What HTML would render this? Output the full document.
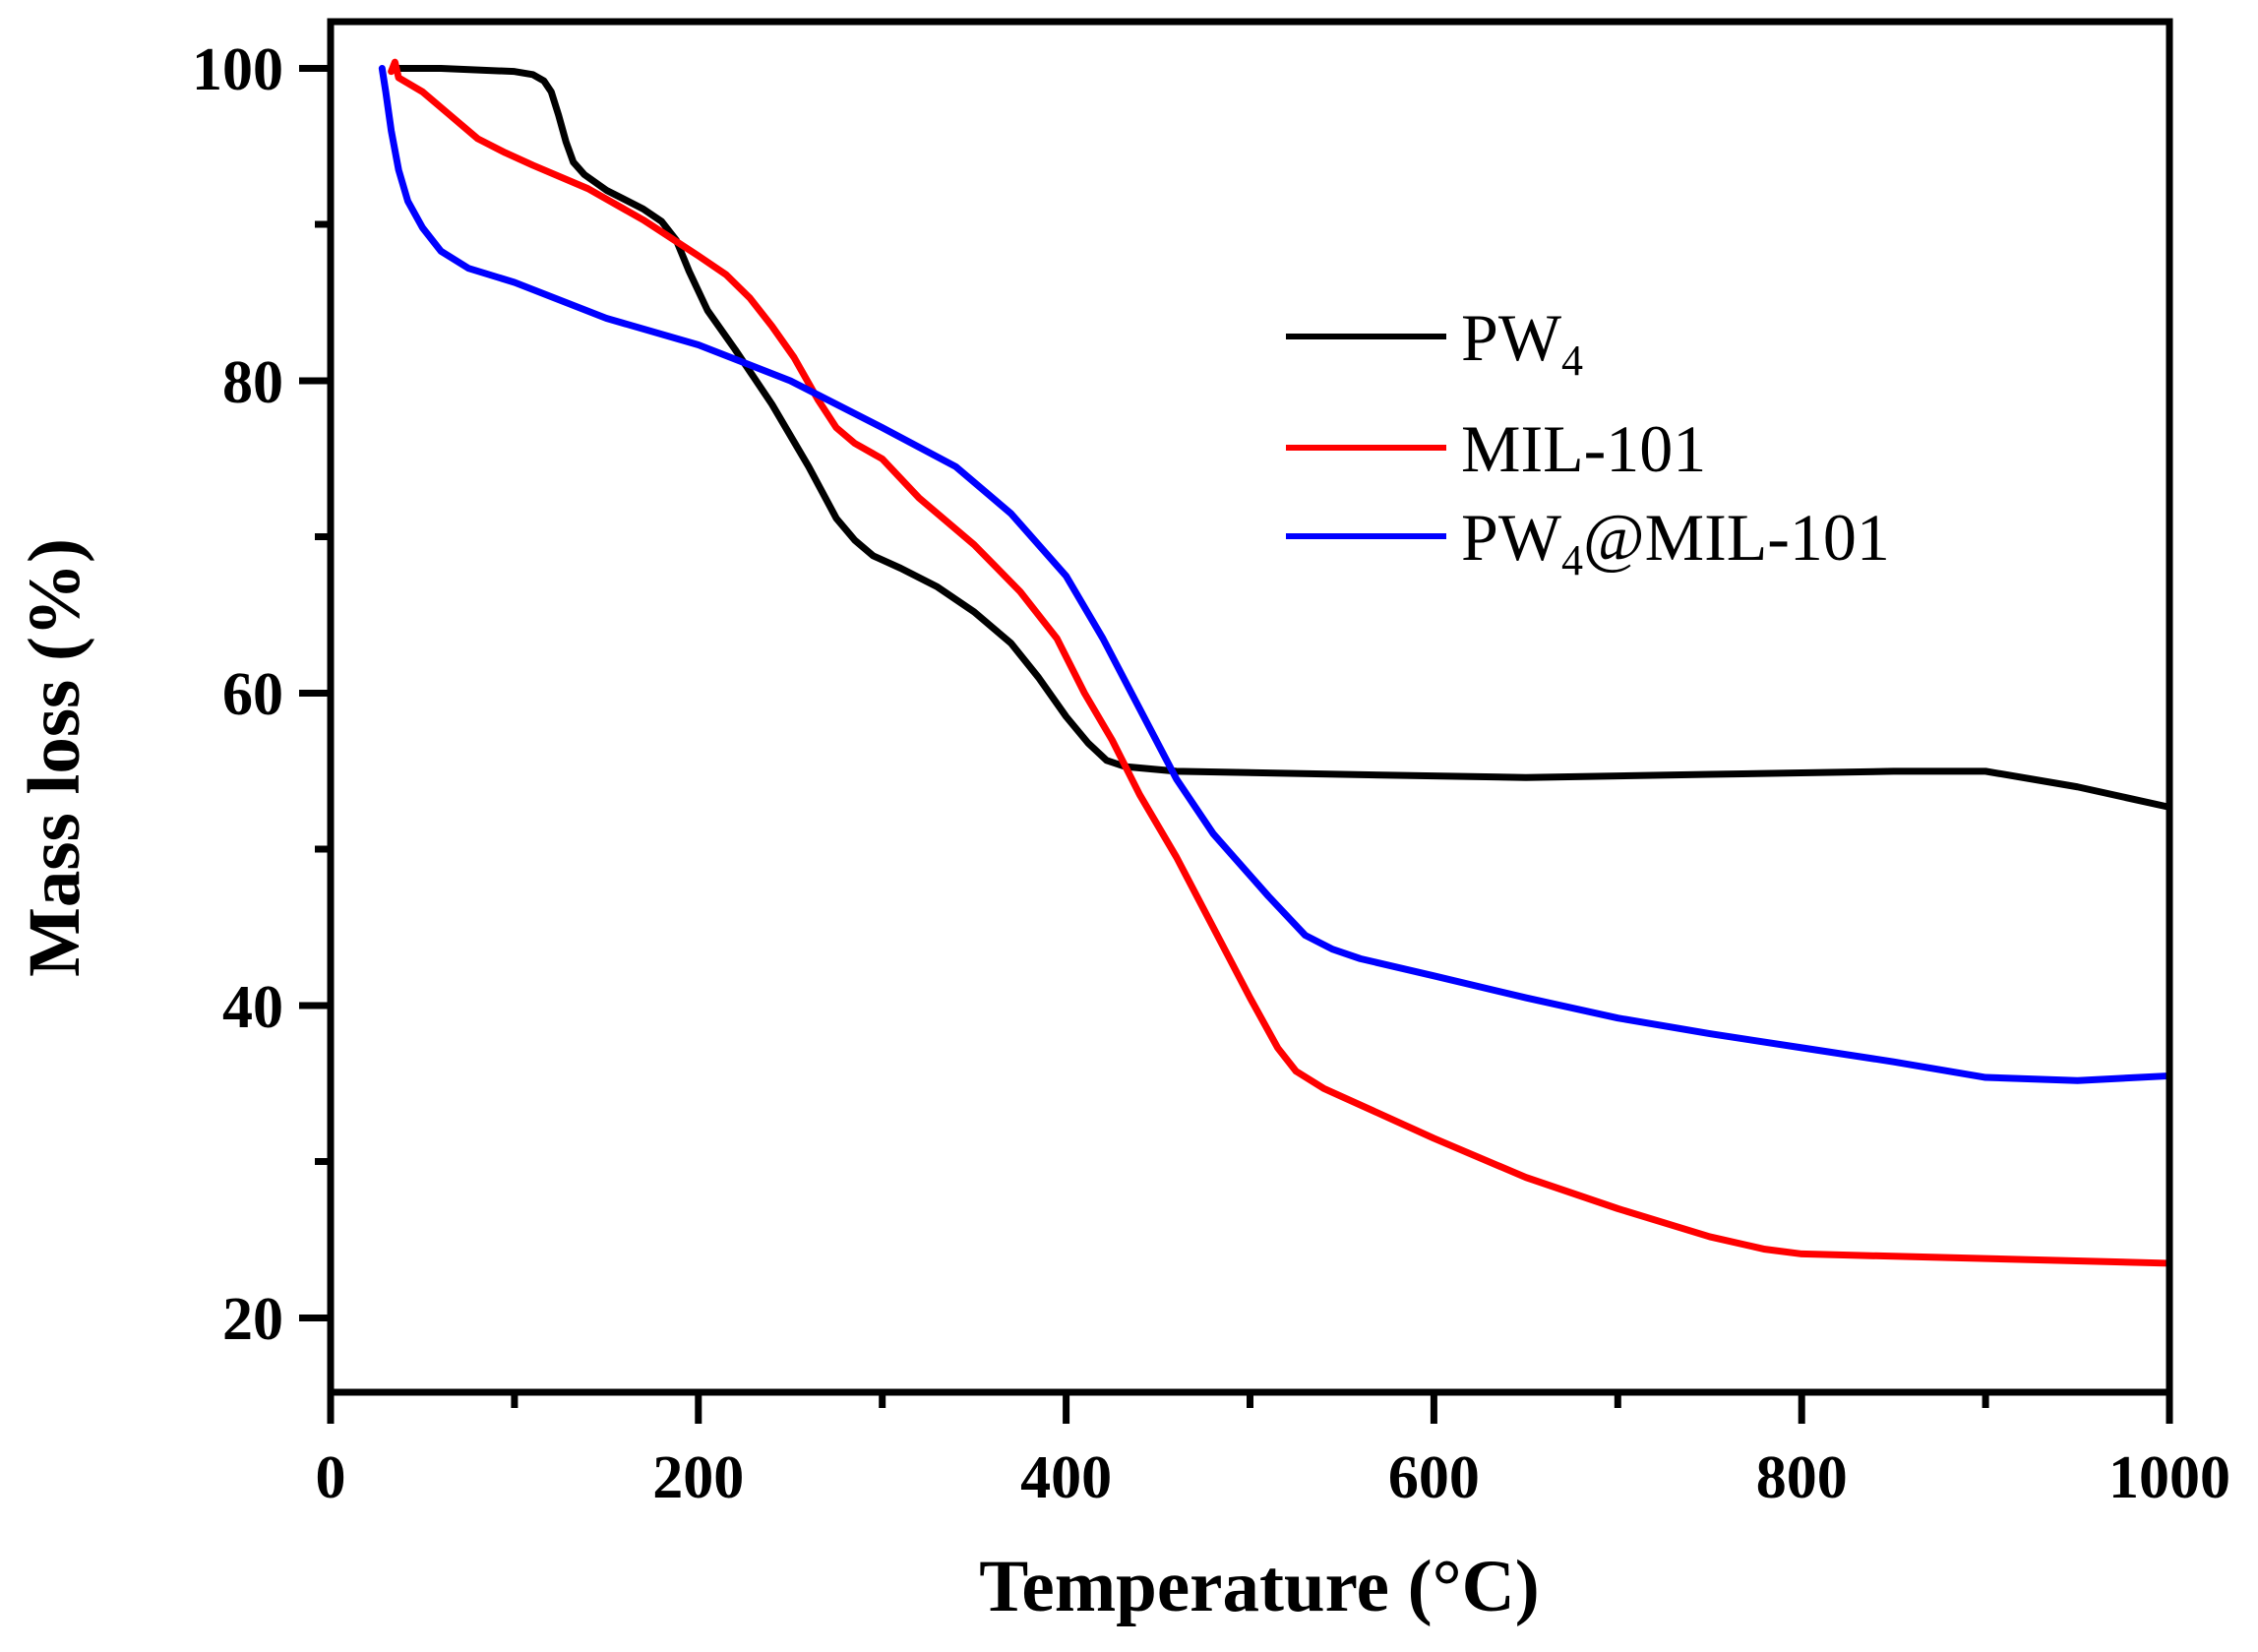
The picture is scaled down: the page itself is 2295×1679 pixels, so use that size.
<!DOCTYPE html>
<html><head><style>html,body{margin:0;padding:0;background:#fff}svg{display:block}</style></head>
<body>
<svg width="2295" height="1679" viewBox="0 0 2295 1679" xmlns="http://www.w3.org/2000/svg" font-family="Liberation Serif, serif">
<rect width="2295" height="1679" fill="#fff"/>
<g transform="translate(336,1657) scale(1.869,-15.875)" fill="none" stroke-width="7" stroke-linejoin="round" stroke-linecap="round">
<polyline vector-effect="non-scaling-stroke" stroke="#000" points="35,100 60,100 100,99.8 110,99.6 116,99.2 120,98.5 124,97 128,95.3 132,94 138,93.2 150,92.2 170,91 180,90.2 188,89 195,87 205,84.5 220,82 240,78.5 260,74.5 275,71.2 285,69.8 295,68.8 310,68 330,66.8 350,65.2 370,63.2 385,61 400,58.5 412,56.8 422,55.7 432,55.3 460,55 550,54.8 650,54.6 750,54.8 850,55 900,55 950,54 1000,52.7"/>
<polyline vector-effect="non-scaling-stroke" stroke="#f00" points="33,99.8 35,100.4 37,99.4 50,98.5 65,97 80,95.5 95,94.6 110,93.8 140,92.3 170,90.3 200,88 215,86.8 228,85.3 240,83.5 252,81.5 265,78.8 275,77 285,76 300,75 320,72.5 350,69.5 375,66.5 395,63.5 410,60 425,57 440,53.5 460,49.5 480,45 500,40.5 515,37.3 525,35.8 540,34.7 600,31.5 650,29 700,27 750,25.2 780,24.4 800,24.1 900,23.8 1000,23.5"/>
<polyline vector-effect="non-scaling-stroke" stroke="#00f" points="28,100 30,98.5 33,96 37,93.5 42,91.5 50,89.8 60,88.3 75,87.2 100,86.3 150,84 200,82.3 250,80 300,77 340,74.5 370,71.5 400,67.5 420,63.5 440,59 460,54.5 480,51 510,47 530,44.5 545,43.6 560,43 600,41.9 650,40.5 700,39.2 750,38.2 800,37.3 850,36.4 900,35.4 950,35.2 1000,35.5"/>
</g>
<rect x="336" y="22" width="1869" height="1393" fill="none" stroke="#000" stroke-width="7"/>
<g stroke="#000" stroke-width="7">
<line x1="336" y1="1415" x2="336" y2="1447"/><line x1="709.8" y1="1415" x2="709.8" y2="1447"/><line x1="1083.6" y1="1415" x2="1083.6" y2="1447"/><line x1="1457.4" y1="1415" x2="1457.4" y2="1447"/><line x1="1831.2" y1="1415" x2="1831.2" y2="1447"/><line x1="2205" y1="1415" x2="2205" y2="1447"/>
<line x1="522.9" y1="1415" x2="522.9" y2="1431"/><line x1="896.7" y1="1415" x2="896.7" y2="1431"/><line x1="1270.5" y1="1415" x2="1270.5" y2="1431"/><line x1="1644.3" y1="1415" x2="1644.3" y2="1431"/><line x1="2018.1" y1="1415" x2="2018.1" y2="1431"/>
<line x1="336" y1="69.5" x2="304" y2="69.5"/><line x1="336" y1="387" x2="304" y2="387"/><line x1="336" y1="704.5" x2="304" y2="704.5"/><line x1="336" y1="1022" x2="304" y2="1022"/><line x1="336" y1="1339.5" x2="304" y2="1339.5"/>
<line x1="336" y1="228" x2="320" y2="228"/><line x1="336" y1="545.5" x2="320" y2="545.5"/><line x1="336" y1="863" x2="320" y2="863"/><line x1="336" y1="1180.5" x2="320" y2="1180.5"/>
</g>
<g font-size="62" font-weight="bold" text-anchor="end">
<text x="288" y="91">100</text><text x="288" y="409">80</text><text x="288" y="726">60</text><text x="288" y="1044">40</text><text x="288" y="1361">20</text>
</g>
<g font-size="62" font-weight="bold" text-anchor="middle">
<text x="336" y="1522">0</text><text x="709.8" y="1522">200</text><text x="1083.6" y="1522">400</text><text x="1457.4" y="1522">600</text><text x="1831.2" y="1522">800</text><text x="2205" y="1522">1000</text>
</g>
<text x="1280" y="1637" font-size="75" font-weight="bold" text-anchor="middle">Temperature (°C)</text>
<text transform="translate(80,770) rotate(-90)" font-size="75" font-weight="bold" text-anchor="middle">Mass loss (%)</text>
<g stroke-width="6">
<line x1="1307" y1="342" x2="1470" y2="342" stroke="#000"/>
<line x1="1307" y1="455" x2="1470" y2="455" stroke="#f00"/>
<line x1="1307" y1="545" x2="1470" y2="545" stroke="#00f"/>
</g>
<g font-size="68">
<text x="1485" y="366">PW<tspan font-size="44" dy="15">4</tspan></text>
<text x="1485" y="479">MIL-101</text>
<text x="1485" y="569">PW<tspan font-size="44" dy="15">4</tspan><tspan dy="-15">@MIL-101</tspan></text>
</g>
</svg>
</body></html>
